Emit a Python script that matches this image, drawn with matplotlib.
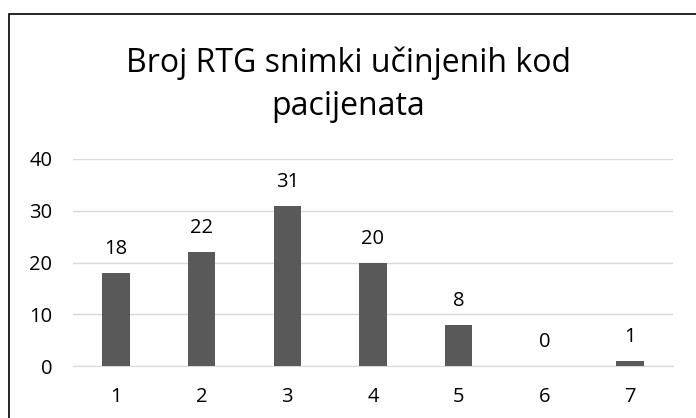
import matplotlib.pyplot as plt
from matplotlib.patches import Rectangle

categories = ["1", "2", "3", "4", "5", "6", "7"]
values = [18, 22, 31, 20, 8, 0, 1]
title = "Broj RTG snimki učinjenih kod\npacijenata"

plt.rcParams["font.family"] = ["Open Sans", "DejaVu Sans"]

W, H = 696, 418
fig = plt.figure(figsize=(W / 100, H / 100), dpi=100)

# outer chart frame (cut off at right and bottom like the source)
fig.patches.append(Rectangle((9 / W, -0.1), 1.2, 1.1 - 14 / H,
                             transform=fig.transFigure, fill=False,
                             edgecolor="black", linewidth=1.2))

ax = fig.add_axes([73 / W, 1 - 366 / H, 600 / W, (366 - 159) / H])
x = range(len(categories))
ax.bar(x, values, width=0.32, color="#595959", zorder=3)

for xi, v in zip(x, values):
    ax.annotate(str(v), (xi, v), xytext=(0, 10), textcoords="offset points",
                ha="center", va="bottom", fontsize=14.5, color="#000000")

ax.set_xlim(-0.5, len(categories) - 0.5)
ax.set_ylim(0, 40)
ax.set_yticks([0, 10, 20, 30, 40])
ax.set_xticks(list(x))
ax.set_xticklabels(categories)
ax.grid(axis="y", color="#D9D9D9", linewidth=1.0, zorder=0)
for s in ["top", "right", "left"]:
    ax.spines[s].set_visible(False)
ax.spines["bottom"].set_color("#D9D9D9")
ax.tick_params(axis="both", length=0, labelsize=14.5, colors="#000000")
ax.tick_params(axis="x", pad=15)
ax.tick_params(axis="y", pad=15)

fig.text(0.5, 1 - 85 / H, title, ha="center", va="center",
         fontsize=23, linespacing=1.38)

fig.savefig("out.png", dpi=100)
